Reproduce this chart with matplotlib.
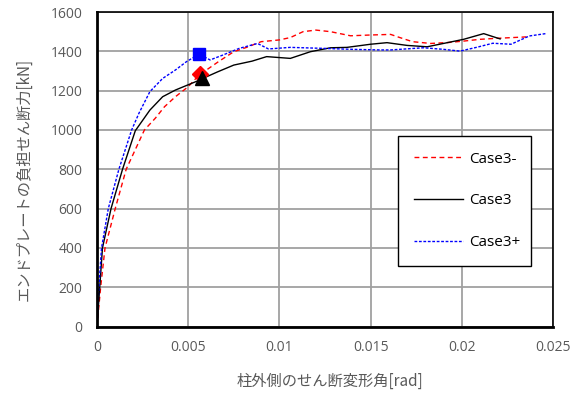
import matplotlib
matplotlib.use("Agg")
import matplotlib.pyplot as plt

plt.rcParams['font.family'] = ['Noto Sans CJK JP', 'DejaVu Sans']

# Case3- (red dashed)
red_x = [0, 0.0002, 0.00044, 0.001, 0.0016, 0.0021, 0.0026, 0.0032, 0.0037, 0.0043, 0.005,
         0.0056, 0.006, 0.0067, 0.0075, 0.0082, 0.009, 0.0100, 0.0106, 0.0113, 0.0120, 0.0128,
         0.0139, 0.0150, 0.0161, 0.0166, 0.0173, 0.0183, 0.0193, 0.0201, 0.0210, 0.0219, 0.0237]
red_y = [0, 200, 400, 600, 800, 900, 1000, 1060, 1118, 1169, 1220,
         1280, 1305, 1350, 1398, 1420, 1449, 1458, 1470, 1500, 1508, 1500,
         1479, 1483, 1486, 1470, 1449, 1440, 1445, 1452, 1461, 1466, 1474]

# Case3 (black solid)
blk_x = [0, 0.00015, 0.0003, 0.00077, 0.0014, 0.0021, 0.0029, 0.0036, 0.0043, 0.0054, 0.0058,
         0.0066, 0.0075, 0.0085, 0.0093, 0.0106, 0.0117, 0.0128, 0.0137, 0.0150, 0.0159,
         0.0170, 0.0181, 0.0201, 0.0212, 0.0221]
blk_y = [0, 200, 400, 600, 800, 996, 1101, 1169, 1203, 1245, 1262,
         1295, 1330, 1350, 1373, 1364, 1398, 1418, 1420, 1436, 1444,
         1430, 1423, 1461, 1490, 1463]

# Case3+ (blue dotted)
blu_x = [0, 0.0001, 0.00025, 0.00062, 0.0012, 0.0019, 0.0023, 0.0029, 0.0036, 0.0043, 0.0049,
         0.0056, 0.0062, 0.0069, 0.0078, 0.0088, 0.0094, 0.0106, 0.0124, 0.0140, 0.0155,
         0.0161, 0.0179, 0.0190, 0.0199, 0.0208, 0.0217, 0.0227, 0.0237, 0.0246]
blu_y = [0, 200, 400, 600, 800, 1000, 1085, 1195, 1262, 1305, 1347,
         1386, 1356, 1381, 1415, 1440, 1412, 1420, 1415, 1410, 1407,
         1407, 1418, 1410, 1401, 1420, 1441, 1436, 1478, 1490]

# marker points
mk_red = (0.00565, 1285)
mk_blk = (0.00574, 1262)
mk_blu = (0.0056, 1386)

labels = ['Case3-', 'Case3', 'Case3+']
x_ticks = [0, 0.005, 0.01, 0.015, 0.02, 0.025]
x_tick_labels = ['0', '0.005', '0.01', '0.015', '0.02', '0.025']
y_ticks = [0, 200, 400, 600, 800, 1000, 1200, 1400, 1600]

W, H = 581, 396
fig = plt.figure(figsize=(W / 100, H / 100), dpi=100)
ax = fig.add_axes([97 / W, 1 - 326.5 / H, 456 / W, 314.5 / H])

ax.plot(red_x, red_y, color='#ff0000', linestyle=(0, (3.5, 2.5)), linewidth=1.0, label=labels[0])
ax.plot(blk_x, blk_y, color='black', linestyle='-', linewidth=1.0, label=labels[1])
ax.plot(blu_x, blu_y, color='#0000ff', linestyle=(0, (2, 1.2)), linewidth=1.0, label=labels[2])

ax.plot([mk_red[0]], [mk_red[1]], marker='D', color='#ff0000', markersize=8.5, linestyle='none')
ax.plot([mk_blk[0]], [mk_blk[1]], marker='^', color='black', markersize=10, linestyle='none')
ax.plot([mk_blu[0]], [mk_blu[1]], marker='s', color='#0000ff', markersize=8.5, linestyle='none')

ax.set_xlim(0, 0.025)
ax.set_ylim(0, 1600)
ax.set_xticks(x_ticks)
ax.set_xticklabels(x_tick_labels)
ax.set_yticks(y_ticks)
ax.grid(True, color='#a0a0a0', linewidth=1.3)
ax.set_axisbelow(True)
ax.tick_params(length=0, labelsize=10, colors='#595959')
ax.tick_params(axis='y', pad=10.5)
ax.tick_params(axis='x', pad=10)
for lab in ax.get_xticklabels() + ax.get_yticklabels():
    lab.set_family(['Open Sans', 'DejaVu Sans'])

for s in ['left', 'bottom']:
    ax.spines[s].set_linewidth(2.0)
for s in ['top', 'right']:
    ax.spines[s].set_linewidth(1.2)

fig.text(330 / W, 1 - 381 / H, '柱外側のせん断変形角[rad]', fontsize=11, color='#595959',
         ha='center', va='center')
fig.text(24 / W, 1 - 179 / H, 'エンドプレートの負担せん断力[kN]', fontsize=11, color='#595959',
         ha='center', va='center', rotation=90)

leg = ax.legend(loc='upper left', bbox_to_anchor=(0.661, 0.607, 0.290, 0.0), mode='expand',
                frameon=True, fancybox=False, framealpha=1, edgecolor='black',
                prop={'family': ['Open Sans', 'DejaVu Sans'], 'size': 11},
                labelspacing=1.75, borderpad=1.05, handlelength=3.2, handletextpad=0.35,
                borderaxespad=0)
leg.get_frame().set_linewidth(1.0)

fig.savefig('out.png', dpi=100)
